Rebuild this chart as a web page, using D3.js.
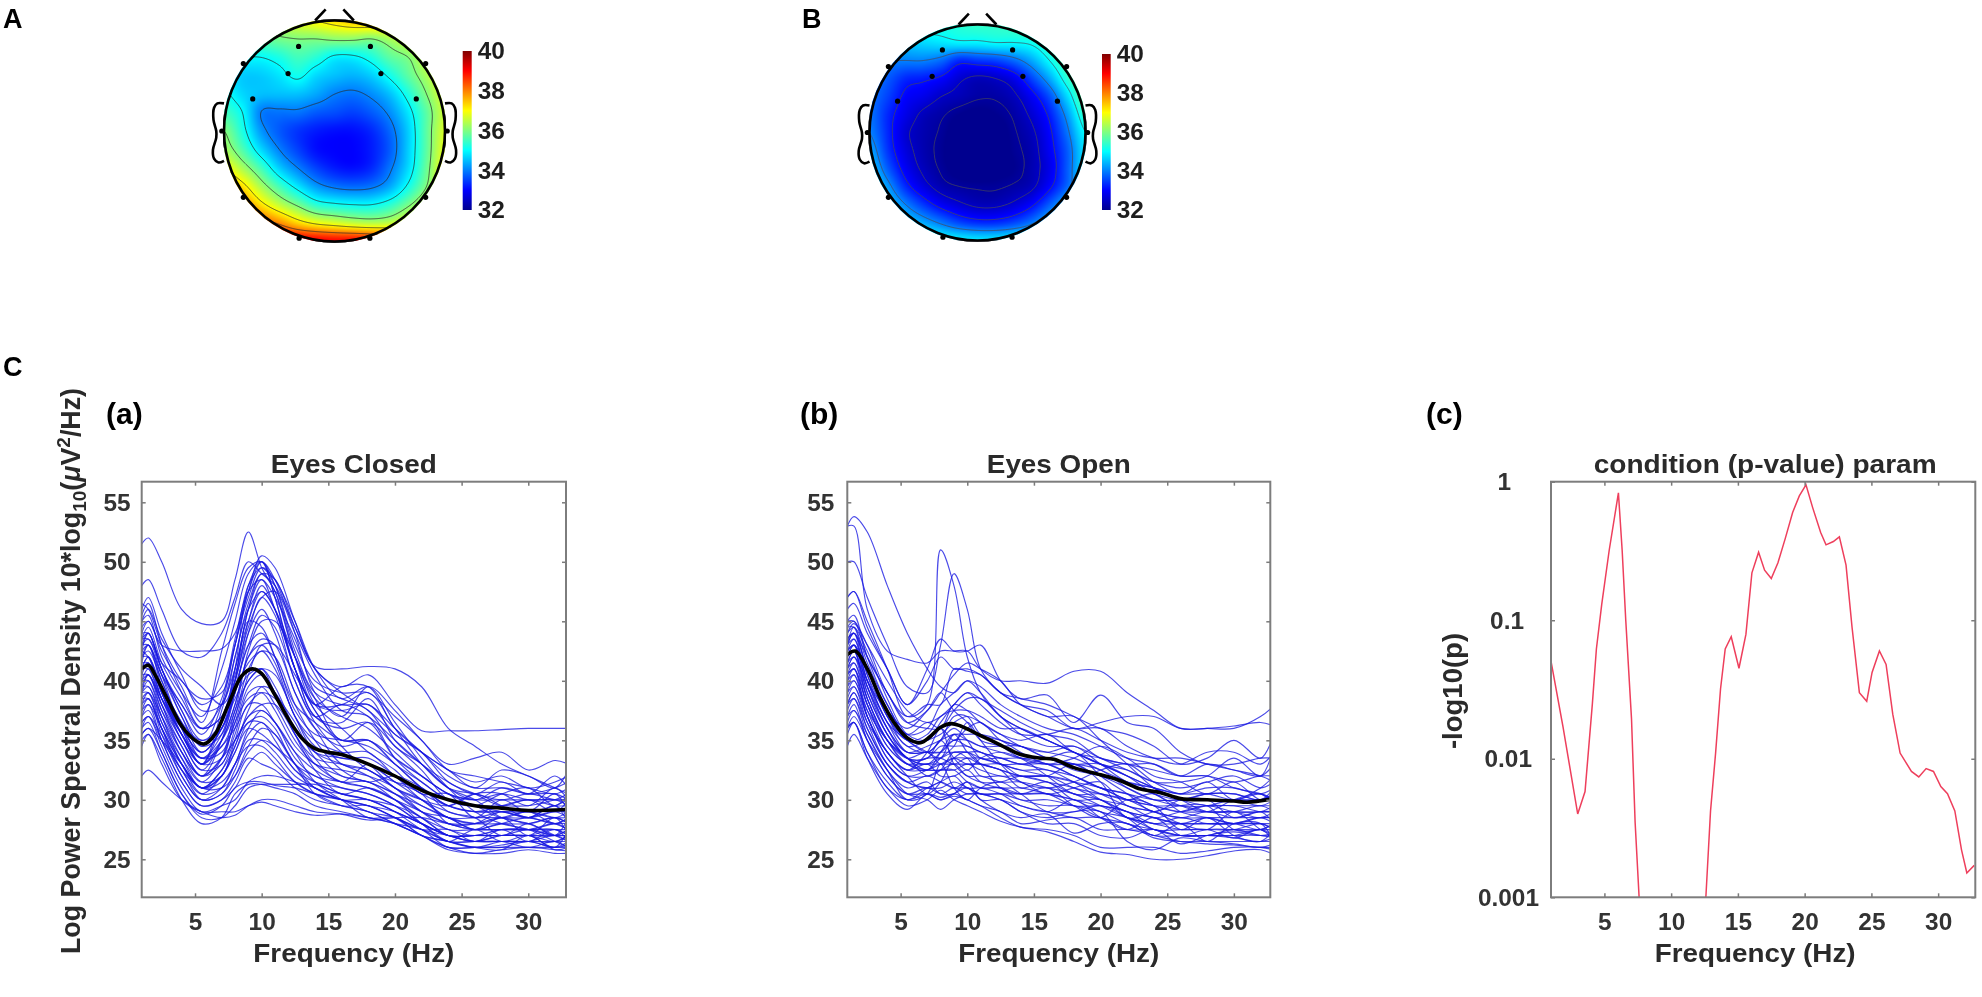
<!DOCTYPE html>
<html>
<head>
<meta charset="utf-8">
<style>
  html, body { margin: 0; background: #fff; }
  svg { display: block; filter: blur(0.55px); }
  text { font-family: "Liberation Sans", Arial, sans-serif; font-weight: bold; fill: #2a2a2a; }
  .letter { fill: #000; }
  .axis path { display: none; }
  .axis line { stroke: #7a7a7a; stroke-width: 1.5; }
  .axis text { font-size: 24.4px; fill: #333; }
  .frame { fill: none; stroke: #7d7d7d; stroke-width: 2; }
  .blue { fill: none; stroke: #1818e2; stroke-width: 1.15; stroke-opacity: 0.78; }
  .mean { fill: none; stroke: #000; stroke-width: 3.6; }
  .red { fill: none; stroke: #ee3f5c; stroke-width: 1.5; }
  .head { fill: none; stroke: #000; stroke-width: 2.6; }
  .contour { fill: none; stroke-width: 1; stroke-opacity: 0.75; }
</style>
</head>
<body>
<svg width="1982" height="997"></svg>
<script src="https://cdnjs.cloudflare.com/ajax/libs/d3/7.8.5/d3.min.js"></script>
<script>
// frequency knots shared by the single subject curves
var freqs = [1,1.5,2.5,4,5.5,7,8,9,10,11,12.5,14,16,18,20,22,24,26,28,30,32,33];

var closedCurves = [
  [51.5,52,50,46,44.8,45,48.5,52.5,49.5,47.5,42,38.5,37,36,34,32,30.5,29.5,29,28.5,28,27.5],
  [48,48.5,46,42.5,42,44,47,50,49,48,44.5,41.2,41,41.2,41,39.5,36,34.5,33,32,31,30.5],
  [46.5,46,43,40,38.5,39,43,47.5,50.5,49.5,45,41,39.5,40.5,38,35.8,35.8,35.8,35.9,36,36,36],
  [45,45.5,42,39,37,41,45,49,50,48.5,44,39,37,39.5,37.5,35,33,33.5,34,32.5,33.3,33],
  [44,45,42.5,39.5,36.5,42.5,46.5,49.5,50,47,41,38,37.5,38,35.5,34,32.5,31.5,32,31,31.5,32],
  [43.5,44,41,37.5,35,36,40,46,48.5,46,41,37,36.5,38.5,35,33,31.5,30.5,31.5,30.5,32,31],
  [43,43.5,41,37,34.5,35.5,39,44,47,45.5,40,37,38,37,35,33,31,30,31,30.5,30.5,30],
  [43,43,40,36.5,35,36.5,41,48,50,47,41,37,36,36.5,33.5,32,30.5,30,30.5,30,30,29.5],
  [42.5,43,40.5,37,34,36,40,45,44.5,42,38,36.5,35,35,33,31.5,30,29.5,29.5,29.5,30,30.5],
  [42.5,42,39,36,34,36,39,43,44,42,37.5,35.5,35,34.5,33,31,29.5,29,29.5,30,29.5,29.5],
  [42,42.5,40,36,33,35,38,42,43,41.5,37,35,34,34,32,30.5,29.5,29,29,29,29.5,30],
  [42,42,39,35.5,33.5,34.5,37,41,42.5,41,37,34.5,33.5,33.5,32,30,29,28.5,29,29,28.5,29],
  [41.5,41.5,39,35,33,33.5,37,40,41,39.5,36,34,33.5,33,31.5,30,28.5,28.5,28.5,28.5,29,28.5],
  [41,41.5,38.5,35,32.5,33,36,39.5,40.5,39,35.5,33.5,33,32.5,31,29.5,28.5,28,28,28,28.5,28],
  [41,41,38,34.5,32,33,35.5,39,39.5,38,35,33,32.5,32,31,29,28,27.5,28,28.5,28,28.5],
  [40.5,40.5,38,34,32,33.5,36.5,38.5,39,37.5,34.5,33,32,31.5,30.5,29,27.5,27.5,27.5,27.5,28,27.5],
  [40,40.5,37.5,34,31.5,32,35,38,38,36.5,34,32.5,31.5,31.5,30,28.5,27.5,27,27.5,27.5,27.5,27.5],
  [40,40,37,33.5,31,32,34.5,37,37.5,36.5,33.5,32,31.5,31,30,28.5,27,27,27,27,27,27.5],
  [39.5,39.5,37,33,31,32.5,35,36.5,37,36,33,32,31,30.5,29.5,28,27,26.5,27,27,27,27],
  [39,39.5,36.5,33,30.5,31,33,35.5,36.5,35,32.5,31.5,31,30.5,29.5,28,26.5,26.5,26.5,26.5,26.5,27],
  [39,39,36,32.5,30.5,32,34,36,35.5,34.5,33,31,30.5,30,29,27.5,26.5,26,26.5,26.5,26.5,26.5],
  [38.5,38.5,36,32,30,30.5,32.5,35,35,34,32,31,30,29.5,28.5,27.5,26,26,26,26.5,26,26.5],
  [38,38.5,35.5,32,30,31,33,34.5,34.5,33.5,31.5,30.5,30,29.5,28.5,27,26,26,26,26,26,26],
  [37.5,38,35,31.5,29.5,30,31,33,34,33,31.5,30.5,29.5,29,28,27,26,25.5,25.8,26,25.8,25.7],
  [37,37.5,35,31.5,29.5,30,31.5,33.5,33,32.5,31,30,29.5,29,28,27,25.8,25.5,25.5,25.8,25.5,25.5],
  [36.5,37,34.5,31,29,29.5,30,31.5,32,32,31.5,31,30,30,29,28,27,27,27.5,27.5,27,27.5],
  [36,36.5,34,30.5,28.8,29.5,31,31.5,31.5,31.2,31,30.5,30,29,28.5,27.5,27,26.5,27,27,27.5,27],
  [35.5,36,34,30.5,28.5,28.5,29.5,31,31.3,31.3,31.3,31.3,30.5,30,29,28,27,26.5,26.5,26.5,27,26.5],
  [35,35.5,33.5,30,28,28.5,30.5,31.3,31.3,31,30.5,29.5,29,28.5,28,27,26.5,26,26.2,26.5,26,26.2],
  [34.5,35.5,33,30,29,29,29,29.5,29.8,29.5,29,28.7,28.8,28.5,28,27.5,26.5,26.5,26.5,26,26.5,26],
  [32,32.5,31.5,30,29,28.5,28.7,29.5,30,30,29.5,29,28.8,28.3,28.5,28.5,28,28,28.5,28,28.5,28],
  [45,46,43.5,41,39.5,38,40,45,48,46,41,38,39.5,39.5,36,34,32.5,31,32.5,32,31,32.5],
  [44.5,45,43,42.5,42.5,42.7,44,47.5,50,48,42.5,39,38,38,36,34,32,31,31,30.5,31,31.5],
  [43,44,41.5,40,38,39.5,43,48,49.5,48,43,40,39,39,37,35,32.5,32,31.5,31,30.5,31],
  [42.5,44,41,38,36,38,41,46,49,47.5,42,38,38,39,36,33,31,30.5,30,30.5,30,30],
  [40,41,38.5,35.5,33,36.5,40,44,46,44,39,36,34.5,35,33,31,29.5,29,29,28.5,29,29],
  [39.5,40.5,38,35,32.5,35,38,42,43.5,43,39,36,33,32.5,31,30,28.5,28,28.5,29,28.5,28.5],
  [41,42,39,35.5,33,34.5,36,38,39,38.5,36,34,32,31.5,30.5,29.5,28.5,27.5,28,27.5,28,28],
  [38.5,39,37,34,32,33.5,35,37,38,38,35.5,33,31.5,31,30,29,28,27.5,27.5,27.5,27.5,27],
  [37,38,36,33,31,32,34,36.5,36.5,35.5,33,31.5,30.5,30,29.5,28.5,27,27,27,27,26.5,27],
  [36.5,37,35.5,32.5,31,31,32,34,35,34.5,32.5,31,30,29.5,29,28,27,27,27,27.5,27,27],
  [45.5,46.5,43,39,36,37,41,45,47.5,46,41,37.5,35,35,33.5,32,30.5,30,30,30,30,30],
  [43.5,44.5,41.5,38.5,36,37,40.5,44.5,47,47.5,44,40.5,37.5,37,33.5,31.5,30,29.5,28.5,29,28,28.5],
  [42,43,40.5,38,35.5,38.5,43.5,47.5,48.5,47,43.5,39.5,38.5,37.5,34.5,33,31,30,28.5,28,27,26.5],
  [44,44,41,37.5,34.5,38,43,47,49.5,48.5,45,41,38.5,39.5,36.5,33.5,31,29,28,27.5,26.5,26],
  [41.5,43,39.5,35.5,33,37.5,42,46,47.5,46,42,38.5,35,36.5,34.5,32.5,30,29.5,30.5,31,29.5,30.5],
  [40.5,41.5,38.5,35.5,33.5,35.5,39.5,43,45.5,44.5,40,36.5,34,33,31,30,29.5,30.5,29.5,28.5,29.5,28],
  [39,40,37.5,34.5,32,35,39,41.5,42.5,42,38,35,32.5,31.5,32,31,29,28.5,27,28,27,28.5],
  [38,39,36.5,33.5,31.5,33.5,37.5,40,41,40.5,37,34,33,32,30.5,29,28.5,27.5,28.5,27,28.5,27],
  [37.5,38.5,36,33,31,32.5,34.5,37.5,39.5,39,35.5,32.5,30.5,31,30,28,26.5,27.5,26.5,27,26,27.5],
  [36,37,35,32.5,30,30.5,32,34.5,36,35.5,33,30.5,29.5,29.5,28.5,27.5,27.5,26.5,27.5,26.5,27.5,26.5],
  [46,47,44,40.5,37.5,38,42,46.5,49,48.5,44.5,41,39,37.5,35.5,34,31.5,30.5,29.5,30,29,30],
  [41,42,39.5,36.5,33.5,35,37.5,42.5,45,45,42,38,36,34,32.5,30.5,30.5,28.5,30,29,30.5,29],
  [43.5,43.5,40.5,36,33.5,34,36.5,40.5,43,43,40.5,37.5,34.5,32.5,31.5,31,29.5,30.5,30.5,29.5,31,30],
  [39,40.5,38.5,36,34,36,38.5,40.5,41,39,36.5,33.5,31.5,33,31.5,30.5,28,28,29,28.5,29.5,28.5],
  [35.5,36,35,33,31,31.5,33,36,37.5,36.5,34,31.5,30,28.5,28.5,27,26.5,26,25.8,27,25.8,26]
];

var openCurves = [
  [53,53.8,52.5,48,44,41,39.5,39,40,39,37,36,35,34,33,32,31,30,29.5,29.5,29,29],
  [53,53,46,42.5,41.8,41.5,42.5,42.5,42.5,41,40,40,39.8,40.8,40.8,39,37.5,36,36,36,37,37.9],
  [47,47.5,45,41,37,38,51,48,42,39,37,36,35,34,33,32,31,30,30,30,30,30],
  [50,50,47,43,39.5,39,43,49,46,41,39,38,37,37,35,33,31,30,29,29,28.5,29],
  [47,47.5,44.5,41,38,41,43.5,42.5,42.5,43,40,38.5,38.8,36.5,38.8,36.5,36,34,33,33,33.5,33.5],
  [46,46.5,44,41,38,40,42,41,41,40.5,39,38,37.5,36,36.5,37,37,36,36,36.2,36.5,36.2],
  [45,45,43,39,37,38,38,41,40.8,40.5,39,38.5,38,37,36,35.5,34.5,33,33.5,35,33.5,35.5],
  [44.5,45,42,39,36.5,37.5,39,40.5,41.5,41,40,38,37,36,36,34.5,33.5,33,34,34,33,34],
  [44,44.5,41.5,38,35.5,36,38,39,40,39.5,38,37,36,35.5,34.5,33.5,33,32,33,32.5,32,33],
  [43.5,44,41,37.5,35,35,36.5,38,39,38.5,37.5,36.5,35.5,35,33.5,33,32.5,32,32,31.5,32,32],
  [43,44,41,37,35,35.5,37,37.5,37.5,37,36,36,35,34,33,32.5,31.5,31,31.5,32,31,31.5],
  [43,43.5,40.5,37,34.5,35,35.5,36.5,37,36.5,35.5,34.5,34,34.5,33,31.5,31,30.5,31,31,30.5,31],
  [42.5,43.5,40,36.5,34.5,34,35,37,37,35.5,35,34.5,34,33.5,32.5,31.5,30.5,30,30.5,30.5,30,31],
  [42.5,43,40,36,34,34.5,35,35.5,35.5,35.5,35,34,33,33,32.5,31,30,30,30,30,30,30.5],
  [42,43,39.5,36,34,34,34,35,35,34.5,34,33.5,33.5,32.5,32,31,30,29.5,29.5,30,29.5,30],
  [42,42.5,39,35.5,33.5,33.5,34.5,34.5,34.5,34,33.5,33.5,33,32,31,30.5,29.5,29,29.5,29.5,29.5,29.5],
  [41.5,42.5,39,35.5,33.5,33,33.5,34,34,34,33,33,32.5,32,31,30,29.5,29,29,29,29.5,29],
  [41,42,38.5,35,33.5,34,33,33.5,33.5,33.5,33,32.5,32.5,31.5,30.5,29.5,29,28.5,29,28.5,29,29],
  [41,41.5,38.5,35,33,33.5,33.5,33,33.5,33,33,32,32,31,30.5,30,29,28.5,28.5,28.5,28.5,28.5],
  [40.5,41.5,38,34.5,33,33,33,33,33,33,32.5,32,32,31.5,30,29,28.5,28,28.5,28,28.5,28.5],
  [40,41,38,34.5,33,32.5,32.5,32.5,33,32.5,32,32,31.5,30.5,30,29,28.5,28,28,28,28,28],
  [40,40.5,37.5,34,32.5,32.5,32.5,33,32,32,31.5,31.5,31,30.5,29.5,28.5,28,28,28,28,27.5,28],
  [39.5,40.5,37,34,32.5,33,32,32,32.5,31.5,31,31,30.5,30,29.5,29,27.5,27.5,27.5,27.5,28,27.5],
  [39,40,37,33.5,32,32,32.5,32.5,31.5,31,31,30.5,30.5,30,29,28.5,27.5,27,27.5,27.5,27.5,27.5],
  [38.5,39.5,36.5,33,31.5,32,31.5,31,31.5,31,31,30,30,29.5,29,28,27.5,27,27,27.5,27,27],
  [38,39,36,33,31.5,31,31,31.5,31,30.5,30.5,30,29.5,29.5,28.5,28,27,27,27,27,27,26.8],
  [37.5,38.5,35.5,32.5,31,31.5,30.5,31,30.5,30.5,30,29.5,29,30,28.5,27.5,28.5,27,27,26.8,26.5,26.8],
  [37,38,35,32,30.5,31,30.5,30.5,31.5,30,30,29,28.5,29,29,26.5,25.8,26.8,26.5,26.5,26.5,26.5],
  [36.5,37.5,35,32,30.5,30.5,30,30.5,31,30,29,28.5,28.8,27.2,28,28,26.8,26.5,26.5,26.3,26,26.3],
  [36,36.5,34,31,30,30.5,30,30.3,30,29.5,29,28,28.3,28.5,27.5,27.5,27,26.5,26.3,26.2,26,26],
  [35.5,36.5,33.5,30.5,29.2,30.5,30.2,30.5,30,29.5,28.5,27.7,27.5,27,26,26,26,25.5,25.7,26,26,25.8],
  [34.5,35.5,33.5,31,29.5,30,30.8,30,29.5,29,28.2,27.7,27.3,26.5,25.6,25.4,25,25,25.3,25.7,25.8,25.4],
  [36,36.5,34,31.5,30,31,31.5,32,31,31,30.5,29.5,29,28.5,28.5,27.5,27.5,27,27,27,27.5,27],
  [39,39.5,37,33.5,32,32.5,33,33.5,33,33,32.5,32,31.5,31,30,29.5,28.5,29,29.5,29,29,29.5],
  [40.5,41,38,35,33.5,33,34,35,34.5,34,33.5,33,33,32,31,30.5,30,30,30.5,30.5,30,30.5],
  [43,44,42,39,36.5,36,36,37.5,38.5,38.5,37,35.5,34.5,34.5,33.5,32.5,31.5,31.5,32,33.5,32,34.5],
  [44,44.8,43,40,37.5,36.5,37,38,39,38,36.5,35.5,35.5,36,35,34,33.5,33.5,33,32.5,32,31.5],
  [38,38.5,36,33,31.5,31,31.5,31,31,30.5,30.5,30.5,30.5,29.5,29.5,29,28,28.5,28,28,28.5,28],
  [41.5,42,40,36.5,34,34,34,34,34,33.5,33,32.5,32,31.5,31,30,29.5,29.5,29,29,29,29],
  [42,43,41,37,35,34,33.5,35.5,35,34.5,34.5,34.5,33.5,33,32,31.5,31,30.5,30.5,30,30.5,30],
  [43,44.5,42.5,38.5,35.5,35,36,35,36,36.5,35,34.5,33.5,33,33,32,30.5,29.5,29,30,30.5,29.5],
  [44.5,44.5,40.5,36.5,35,34,35,36,35,33.5,33.5,33,33.5,34,32,30.5,29,30,30,28.5,29,28],
  [42.5,43,39.5,35.5,33.5,32.5,33.5,34.5,36.5,35,33,31.5,31,31.5,32.5,33,31.5,30.5,31.5,30,31,32],
  [41,42,39.5,36,33.5,33.5,35,33.5,32.5,33.5,34,33.5,32,30.5,30.5,30,30.5,29,28.5,28,28,27.5],
  [40.5,41,37,34,32.5,34,36,33,32,31.5,31.5,32,32,33,31.5,28.5,29,29.5,29.5,27.5,27.5,28],
  [39.5,40,37.5,35,33.5,32,32.5,34,33.5,32,32,31.5,30.5,31,31.5,29.5,29,28,27.5,29,27.5,27],
  [38,39,36.5,34,32,30.5,31.5,33.5,34,33,31,30.5,31,29.5,28.5,30,29.5,27.5,28.5,27,26.5,27.5],
  [37,37.5,35.5,32.5,30,30.5,33,31,30,31,31.5,30.5,29,29,29.5,28.5,27,28,26.5,28,28,26.5],
  [45,45.5,42,38,35.5,36.5,36,38,37.5,36.5,35.5,35,35.5,34,33.5,33,33,32,32,31,30.5,30],
  [43.5,44,40,37.5,36,37.5,39,37.5,36.5,35,34.5,33.5,33,33.5,34.5,33.5,32,31.5,30.5,31.5,30,30.5],
  [41.5,42.5,38.5,35,33,32.5,34,35.5,34,33,32.5,31,31.5,30,30,28.5,28,27.5,27.5,26.8,27.5,26.5],
  [36,37,35,32.5,30.5,30,29.2,30,30.5,30.5,30,29,28,28,27,26.8,27.5,26.3,27,27.3,27,27.2]
];

// group means
var closedMeanF = [1,1.5,2,3,4,5,5.7,6.5,7.5,8.5,9.3,10,11,12,13,14,15,16,18,20,22,24,26,28,30,33];
var closedMean = [41,41.3,40.5,38.3,36.2,35,34.7,35.5,38,40.4,41,40.6,38.8,36.8,35.2,34.3,34,33.8,33,32,30.8,30,29.5,29.3,29.1,29.2];
var openMeanF = [1,1.6,2.5,3.5,4.5,5.5,6.5,7.2,8,8.8,9.5,11,12.5,14,15.5,16.5,18,20,21.5,23,24.5,26,28,30,31,33];
var openMean = [42.2,42.5,41,38.5,36.5,35.2,34.8,35.3,36.1,36.4,36.2,35.4,34.6,33.8,33.5,33.4,32.7,32.1,31.6,30.9,30.6,30.1,30,29.9,29.8,30.1];

// p-values, null where the curve leaves the axis
var pFreq = [1,1.9,3,3.55,4.1,4.4,4.8,5.36,6.05,6.33,6.6,7.03,7.3,7.6,10,12.6,12.95,13.33,13.7,14.05,14.5,15.08,15.6,16.05,16.55,17,17.5,18,18.55,19.1,19.6,20.1,20.6,21.2,21.6,22.15,22.6,23.1,23.55,24.1,24.65,25.05,25.6,26.1,26.6,27.15,28,28.55,29.1,29.65,30.2,30.7,31.25,31.75,32.15,32.7];
var pValues = [0.0506,0.017,0.004,0.0058,0.025,0.062,0.13,0.32,0.83,0.32,0.10,0.0195,0.0035,0.001,null,0.001,0.0042,0.011,0.032,0.062,0.076,0.045,0.079,0.22,0.31,0.23,0.20,0.26,0.39,0.60,0.79,0.95,0.65,0.43,0.35,0.37,0.40,0.25,0.089,0.03,0.026,0.042,0.06,0.048,0.021,0.011,0.0081,0.0074,0.0085,0.0081,0.0063,0.0056,0.0042,0.0022,0.0015,0.0017];

var xTicks = [5,10,15,20,25,30];
var yTicks = [25,30,35,40,45,50,55];
var pTicks = [0.001,0.01,0.1,1];
var barTicks = [32,34,36,38,40];

// scalp maps, 13 x 13 readings from top of head to bottom, left to right
var mapA = [
  [36,36,36,36.5,36.8,37,37.2,37.4,37.5,37.5,37.5,37.5,37.5],
  [35.5,35.5,35.7,35.9,36,36,36.1,36.1,36,36.3,36.7,37,37.2],
  [35,35,35,35.2,35.5,35.3,34.9,34.9,35.2,35.7,36,36.6,37],
  [34.9,34.6,34.6,34.8,35.1,34.7,34.5,34.4,34.6,35.1,35.7,36.3,36.9],
  [35.1,34.7,34.5,34.5,34.5,34.3,34,33.9,34.1,34.5,35.2,36,36.7],
  [35.5,35,34,33.9,33.9,33.7,33.6,33.5,33.7,34.1,34.8,35.7,36.6],
  [36,35.2,34.2,33.7,33.4,33.2,33.1,33.1,33.3,33.8,34.6,35.7,36.7],
  [36.3,35.6,34.7,34,33.5,33.1,33,33,33.2,33.7,34.6,35.7,36.8],
  [37,36.3,35.5,34.6,34,33.5,33.2,33.1,33.3,33.9,34.7,35.8,36.9],
  [37.8,37.2,36.3,35.5,34.8,34.2,33.9,33.8,33.9,34.3,35.1,36,37],
  [38.6,38,37.2,36.5,35.9,35.3,35.1,35,35,35.3,35.9,36.6,37.4],
  [39.4,39,38.4,37.9,37.3,36.9,36.7,36.5,36.4,36.5,36.9,37.3,37.8],
  [40,40,39.7,39.4,39.2,39.1,39,39,38.9,38.6,38.3,38.3,38.5]
];
var mapB = [
  [35.2,35.2,35.2,35.2,35.2,35.3,35.4,35.4,35.5,35.6,35.8,36,36.2],
  [34.5,34.5,34.6,34.7,34.8,34.9,34.9,35,35,35.1,35.5,36,36.2],
  [34,34,34,34,33.8,33.3,33.4,33.5,33.8,34.3,35,35.7,36.2],
  [34,33.7,33.3,33.2,33,32.6,32.4,32.5,32.8,33.5,34.3,35.3,36],
  [33.9,33.5,33,32.8,32.5,32.35,32.2,32.2,32.4,32.9,33.6,34.7,35.8],
  [33.9,33.3,32.8,32.4,32.2,32,31.9,32,32.2,32.6,33.2,34.2,35.4],
  [34,33.3,32.6,32.3,32.1,31.8,31.7,31.8,32.1,32.4,33,33.9,35],
  [34.3,33.4,32.7,32.3,32.05,31.75,31.6,31.75,32.05,32.3,32.9,33.7,34.8],
  [34.6,33.7,32.9,32.4,32.1,31.85,31.7,31.85,32,32.3,32.8,33.7,34.8],
  [35,34.2,33.3,32.7,32.3,32.15,32.1,32.1,32.2,32.4,33,33.8,34.9],
  [35.3,34.7,34,33.4,32.9,32.6,32.4,32.4,32.6,33,33.7,34.5,35.3],
  [35.6,35.2,34.7,34.3,33.9,33.5,33.3,33.3,33.5,33.9,34.5,35.1,35.6],
  [36,35.8,35.4,35.2,35,34.9,34.8,34.8,34.9,35,35.3,35.6,36]
];
var contoursA = [34,35,36,37,38];
var contoursB = [32.15,32.5,33.1,34,35];

// electrode sites, in head radii from the centre
var elecX = [-0.325,0.325,-0.42,0.42,-0.74,0.74,-0.825,0.825,-1.02,1.02,-0.825,0.825,-0.32,0.32];
var elecY = [-0.765,-0.765,-0.52,-0.52,-0.29,-0.29,-0.61,-0.61,0,0,0.6,0.6,0.97,0.97];

var svg = d3.select("svg");

var jet = d3.scaleLinear()
  .domain([32,33,35,37,39,40])
  .range(["#00008f","#0000ff","#00ffff","#ffff00","#ff0000","#800000"])
  .clamp(true);

function catmull(a, b, c, d, t) {
  return b + 0.5 * t * (c - a + t * (2 * a - 5 * b + 4 * c - d + t * (3 * (b - c) + d - a)));
}

// smooth the coarse readings up to a drawable field
function upsample(grid, n) {
  var m = grid.length, out = new Float64Array(n * n);
  function at(r, c) {
    return grid[Math.max(0, Math.min(m - 1, r))][Math.max(0, Math.min(m - 1, c))];
  }
  for (var j = 0; j < n; j++) {
    var gy = j / (n - 1) * (m - 1), r = Math.min(m - 2, Math.floor(gy)), ty = gy - r;
    for (var i = 0; i < n; i++) {
      var gx = i / (n - 1) * (m - 1), c = Math.min(m - 2, Math.floor(gx)), tx = gx - c;
      var rows = [-1,0,1,2].map(function(k) {
        return catmull(at(r + k, c - 1), at(r + k, c), at(r + k, c + 1), at(r + k, c + 2), tx);
      });
      out[j * n + i] = catmull(rows[0], rows[1], rows[2], rows[3], ty);
    }
  }
  return out;
}

function drawMap(id, grid, levels, cx, cy, rad, bar, contourColor) {
  var n = 221, field = upsample(grid, n);
  var cv = document.createElement("canvas");
  cv.width = n; cv.height = n;
  var ctx = cv.getContext("2d"), img = ctx.createImageData(n, n);
  field.forEach(function(v, k) {
    var col = d3.rgb(jet(v));
    img.data[k * 4] = col.r; img.data[k * 4 + 1] = col.g; img.data[k * 4 + 2] = col.b; img.data[k * 4 + 3] = 255;
  });
  ctx.putImageData(img, 0, 0);

  svg.append("clipPath").attr("id", "clip" + id)
    .append("circle").attr("cx", cx).attr("cy", cy).attr("r", rad + 1.5);

  var g = svg.append("g");
  var hx = d3.scaleLinear().domain([-1,1]).range([cx - rad, cx + rad]);
  var hy = d3.scaleLinear().domain([-1,1]).range([cy - rad, cy + rad]);

  var inner = g.append("g").attr("clip-path", "url(#clip" + id + ")");
  inner.append("image")
    .attr("href", cv.toDataURL())
    .attr("x", hx(-1)).attr("y", hy(-1))
    .attr("width", 2 * rad).attr("height", 2 * rad)
    .attr("preserveAspectRatio", "none");

  var sx = d3.scaleLinear().domain([0.5, n - 0.5]).range([cx - rad, cx + rad]);
  var sy = d3.scaleLinear().domain([0.5, n - 0.5]).range([cy - rad, cy + rad]);
  var geo = d3.geoPath(d3.geoTransform({
    point: function(x, y) { this.stream.point(sx(x), sy(y)); }
  }));
  inner.selectAll(".contour")
    .data(d3.contours().size([n, n]).thresholds(levels)(Array.from(field)))
    .enter().append("path")
    .attr("class", "contour")
    .attr("stroke", contourColor)
    .attr("d", geo);

  // head, nose and ears
  g.append("circle").attr("class", "head").attr("cx", cx).attr("cy", cy).attr("r", rad);
  var outline = d3.line().x(function(d) { return hx(d[0]); }).y(function(d) { return hy(d[1]); });
  var ear = [[1,-0.25],[1.06,-0.25],[1.09,-0.21],[1.095,-0.1],[1.07,0],[1.07,0.06],[1.1,0.17],[1.09,0.25],[1.05,0.285],[1,0.27]];
  [-1,1].forEach(function(s) {
    g.append("path").attr("class", "head")
      .attr("d", outline.curve(d3.curveCatmullRom)(ear.map(function(d) { return [s * d[0], d[1]]; })));
    g.append("path").attr("class", "head")
      .attr("d", outline.curve(d3.curveLinear)([[s * 0.175, -1.0],[s * 0.08, -1.1]]));
  });

  g.selectAll(".elec").data(elecX).enter().append("circle")
    .attr("class", "elec")
    .attr("cx", function(d) { return hx(d); })
    .attr("cy", function(d, i) { return hy(elecY[i]); })
    .attr("r", 2.6).attr("fill", "#000");

  // colour bar
  var grad = svg.append("linearGradient").attr("id", "grad" + id)
    .attr("x1", 0).attr("x2", 0).attr("y1", 1).attr("y2", 0);
  jet.domain().forEach(function(v) {
    grad.append("stop").attr("offset", (v - 32) / 8).attr("stop-color", jet(v));
  });
  var by = d3.scaleLinear().domain([32,40]).range([bar.bottom, bar.top]);
  g.append("rect")
    .attr("x", bar.left).attr("y", bar.top)
    .attr("width", bar.width).attr("height", bar.bottom - bar.top)
    .attr("fill", "url(#grad" + id + ")");
  var cb = g.append("g").attr("class", "axis")
    .attr("transform", "translate(" + (bar.left + bar.width) + ",0)")
    .call(d3.axisRight(by).tickValues(barTicks).tickSize(0).tickPadding(6));
  cb.selectAll("text").style("fill", "#1e1e1e");
}

function drawFrame(g, x, y, w, h, yVals, yFmt, pad) {
  g.append("g").attr("class", "axis").attr("transform", "translate(0," + h + ")")
    .call(d3.axisBottom(x).tickValues(xTicks).tickSize(-4).tickPadding(15.5));
  g.append("g").attr("class", "axis")
    .call(d3.axisTop(x).tickValues(xTicks).tickSize(-4).tickFormat(""));
  g.append("g").attr("class", "axis")
    .call(d3.axisLeft(y).tickValues(yVals).tickSize(-4).tickPadding(pad).tickFormat(yFmt));
  g.append("g").attr("class", "axis").attr("transform", "translate(" + w + ",0)")
    .call(d3.axisRight(y).tickValues(yVals).tickSize(-4).tickFormat(""));
  g.append("rect").attr("class", "frame").attr("width", w).attr("height", h);
}

function drawPsd(id, left, top, w, h, curves, meanF, mean, title, titleW, pad) {
  var g = svg.append("g").attr("transform", "translate(" + left + "," + top + ")");
  var x = d3.scaleLinear().domain([1, 1 + w / 13.33]).range([0, w]);
  var y = d3.scaleLinear().domain([25 - (h - 377.6) / 11.9, 25 + 377.6 / 11.9]).range([h, 0]);

  svg.append("clipPath").attr("id", "plot" + id)
    .append("rect").attr("width", w).attr("height", h);
  var plot = g.append("g").attr("clip-path", "url(#plot" + id + ")");

  var line = d3.line()
    .x(function(d) { return x(d[0]); })
    .y(function(d) { return y(d[1]); })
    .curve(d3.curveCatmullRom.alpha(0.5));

  plot.selectAll(".blue").data(curves).enter().append("path")
    .attr("class", "blue")
    .attr("d", function(c) { return line(c.map(function(v, i) { return [freqs[i], v]; })); });
  plot.append("path").attr("class", "mean")
    .attr("d", line(mean.map(function(v, i) { return [meanF[i], v]; })));

  drawFrame(g, x, y, w, h, yTicks, d3.format("d"), pad);

  g.append("text").attr("x", w / 2).attr("y", -8.5)
    .attr("text-anchor", "middle").attr("font-size", 25)
    .attr("textLength", titleW).attr("lengthAdjust", "spacingAndGlyphs")
    .text(title);
  g.append("text").attr("x", w / 2).attr("y", h + 64.5)
    .attr("text-anchor", "middle").attr("font-size", 25)
    .attr("textLength", 201).attr("lengthAdjust", "spacingAndGlyphs")
    .text("Frequency (Hz)");
}

function drawP(left, top, w, h) {
  var g = svg.append("g").attr("transform", "translate(" + left + "," + top + ")");
  var x = d3.scaleLinear().domain([1, 1 + w / 13.35]).range([0, w]);
  var y = d3.scaleLog().domain([0.001, 1]).range([h, 0]);
  var line = d3.line()
    .defined(function(d) { return d[1] !== null; })
    .x(function(d) { return x(d[0]); })
    .y(function(d) { return y(d[1]); });
  g.append("path").attr("class", "red")
    .attr("d", line(pValues.map(function(v, i) { return [pFreq[i], v]; })));

  drawFrame(g, x, y, w, h, pTicks, function(d) { return String(d); }, 12);
  // the figure's labels step left as they get shorter
  g.selectAll(".axis").filter(function(d, i) { return i === 2; }).selectAll(".tick text")
    .attr("dx", function(d) { return { 1: -28, 0.1: -15, 0.01: -7, 0.001: 0 }[d]; });

  g.append("text").attr("x", w / 2 + 2).attr("y", -8.5)
    .attr("text-anchor", "middle").attr("font-size", 25)
    .attr("textLength", 343).attr("lengthAdjust", "spacingAndGlyphs")
    .text("condition (p-value) param");
  g.append("text").attr("x", w / 2 - 8).attr("y", h + 64.5)
    .attr("text-anchor", "middle").attr("font-size", 25)
    .attr("textLength", 201).attr("lengthAdjust", "spacingAndGlyphs")
    .text("Frequency (Hz)");
  g.append("text")
    .attr("transform", "translate(-89," + (691 - top) + ") rotate(-90)")
    .attr("text-anchor", "middle").attr("font-size", 27.5)
    .text("-log10(p)");
}

drawMap("A", mapA, contoursA, 334.5, 131, 110.5, { left: 462.7, width: 9, top: 51, bottom: 210 }, "#2c2c2c");
drawMap("B", mapB, contoursB, 977.5, 132.5, 108, { left: 1102, width: 8.7, top: 54, bottom: 210 }, "#4a4a5a");

drawPsd("a", 141.7, 481.7, 424.3, 415.6, closedCurves, closedMeanF, closedMean, "Eyes Closed", 166, 11);
drawPsd("b", 847.3, 481.7, 423, 415.6, openCurves, openMeanF, openMean, "Eyes Open", 144, 13);
drawP(1551, 481.7, 424.3, 415.6);

// y label of panel (a), with its sub- and superscript
var yl = svg.append("text")
  .attr("transform", "translate(80,671) rotate(-90)")
  .attr("text-anchor", "middle").attr("font-size", 26.8);
yl.append("tspan").text("Log Power Spectral Density 10*log");
yl.append("tspan").attr("font-size", 19).attr("dy", 6).text("10");
yl.append("tspan").attr("dy", -6).text("(");
yl.append("tspan").attr("font-style", "italic").text("\u03bc");
yl.append("tspan").text("V");
yl.append("tspan").attr("font-size", 19).attr("dy", -10).text("2");
yl.append("tspan").attr("dy", 10).text("/Hz)");

var letters = ["A","B","C"], letterX = [3,802,3], letterY = [28,28,376];
svg.selectAll(".letter").data(letters).enter().append("text")
  .attr("class", "letter").attr("font-size", 27)
  .attr("x", function(d, i) { return letterX[i]; })
  .attr("y", function(d, i) { return letterY[i]; })
  .text(function(d) { return d; });

var subs = ["(a)","(b)","(c)"], subX = [106,800,1426];
svg.selectAll(".sub").data(subs).enter().append("text")
  .attr("class", "sub").attr("font-size", 30)
  .attr("x", function(d, i) { return subX[i]; })
  .attr("y", 424)
  .style("fill", "#000")
  .text(function(d) { return d; });
</script>
</body>
</html>
